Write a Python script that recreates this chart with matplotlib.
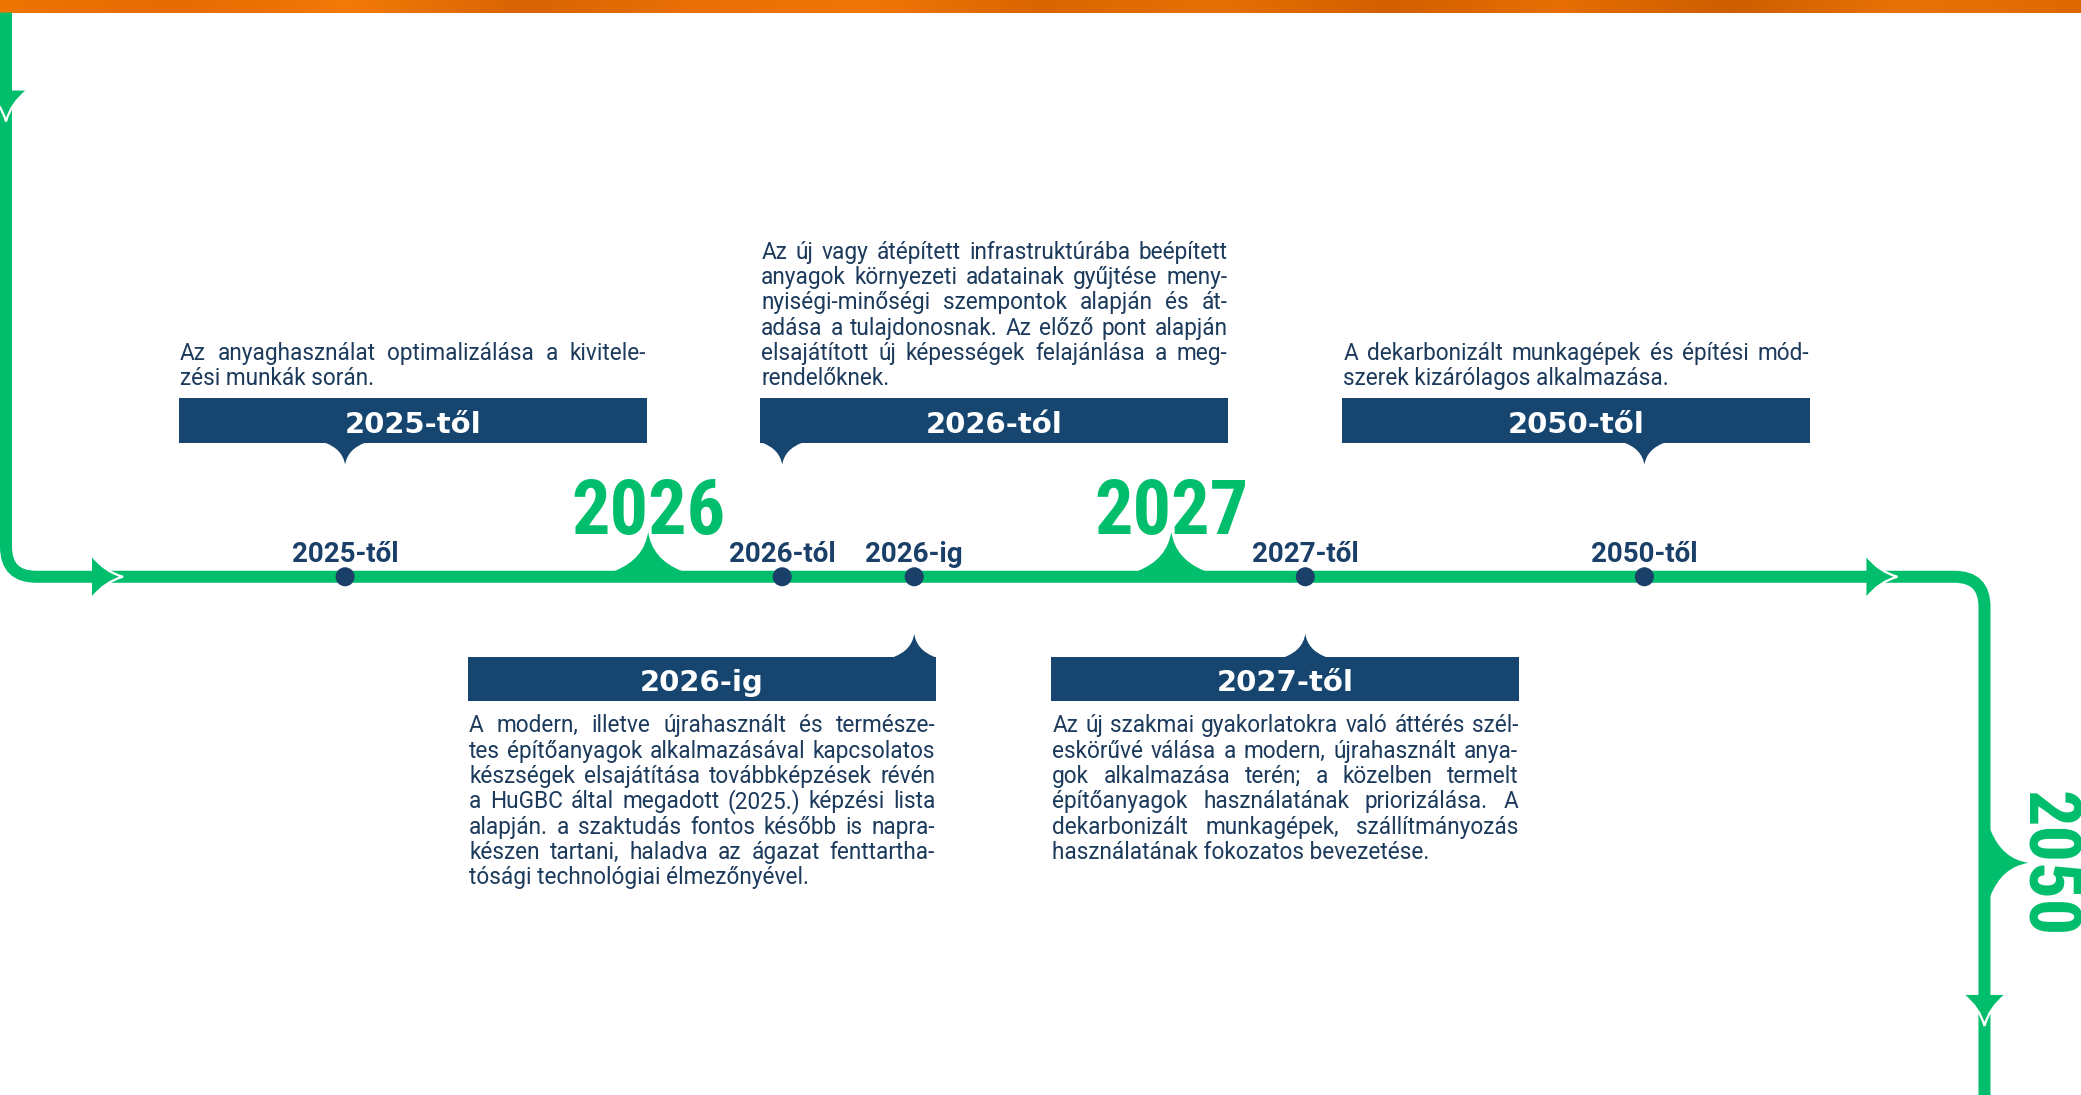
import matplotlib
matplotlib.use('Agg')
import matplotlib.pyplot as plt
import matplotlib.patches as patches
from matplotlib.path import Path
from matplotlib.colors import LinearSegmentedColormap
from matplotlib import font_manager
import numpy as np

# --- tartalom ---
milestones = ['2025-től', '2026-tól', '2026-ig', '2027-től', '2050-től']
big_years = ['2026', '2027']
side_year = '2050'

card_titles = ['2025-től', '2026-tól', '2050-től', '2026-ig', '2027-től']
card_lines = [
    ['Az anyaghasználat optimalizálása a kivitele-',
     'zési munkák során.'],
    ['Az új vagy átépített infrastruktúrába beépített',
     'anyagok környezeti adatainak gyűjtése meny-',
     'nyiségi-minőségi szempontok alapján és át-',
     'adása a tulajdonosnak. Az előző pont alapján',
     'elsajátított új képességek felajánlása a meg-',
     'rendelőknek.'],
    ['A dekarbonizált munkagépek és építési mód-',
     'szerek kizárólagos alkalmazása.'],
    ['A modern, illetve újrahasznált és természe-',
     'tes építőanyagok alkalmazásával kapcsolatos',
     'készségek elsajátítása továbbképzések révén',
     'a HuGBC által megadott (2025.) képzési lista',
     'alapján. a szaktudás fontos később is napra-',
     'készen tartani, haladva az ágazat fenttartha-',
     'tósági technológiai élmezőnyével.'],
    ['Az új szakmai gyakorlatokra való áttérés szél-',
     'eskörűvé válása a modern, újrahasznált anya-',
     'gok alkalmazása terén; a közelben termelt',
     'építőanyagok használatának priorizálása. A',
     'dekarbonizált munkagépek, szállítmányozás',
     'használatának fokozatos bevezetése.'],
]

# --- elrendezés (pixel) ---
W, H = 2081, 1095
LINE_Y = 577
LINE_LW = 12 * 0.72
dot_x = [345, 782, 914, 1305, 1644]
year_x = [648, 1171]
card_x = [179, 760, 1342, 468, 1051]
card_up = [True, True, True, False, False]
card_dot = [0, 1, 4, 2, 3]
CARD_W = 468

GREEN = '#00BE6B'
NAVY = '#16456F'
DOT = '#1A3F69'
TXT = '#1C3A5C'
band_colors = ['#EE7404', '#E46C02', '#F27A08', '#D86404', '#EA7006', '#F07606',
               '#DA6602', '#E67004', '#D26000', '#E66E04', '#CC5E00', '#E87206', '#E06802']

names = {f.name for f in font_manager.fontManager.ttflist}
cond = next((n for n in ['Roboto Condensed', 'Liberation Sans Narrow', 'DejaVu Sans Condensed',
                         'Noto Sans Condensed', 'Open Sans Condensed'] if n in names), 'Roboto')

fig = plt.figure(figsize=(20.815, 10.955), dpi=100)
ax = fig.add_axes([0, 0, 1, 1])
ax.axis('off')
renderer = fig.canvas.get_renderer()

# narancs sáv felül
cmap = LinearSegmentedColormap.from_list('band', band_colors)
ax.imshow(np.linspace(0, 1, 600)[None, :], cmap=cmap, extent=[0, W, 13, 0],
          aspect='auto', interpolation='bicubic', zorder=1)

# zöld idővonal lekerekített sarkokkal
r = 30
verts = [(6, 13), (6, LINE_Y - r), (6, LINE_Y), (6 + r, LINE_Y),
         (1954, LINE_Y), (1984, LINE_Y), (1984, LINE_Y + r), (1984, H + 20)]
codes = [Path.MOVETO, Path.LINETO, Path.CURVE3, Path.CURVE3,
         Path.LINETO, Path.CURVE3, Path.CURVE3, Path.LINETO]
ax.add_patch(patches.PathPatch(Path(verts, codes), fill=False, edgecolor=GREEN,
                               lw=LINE_LW, capstyle='butt', zorder=2))


def local(cx, cy, d):
    dx, dy = d
    nx, ny = -dy, dx
    return lambda a, b: (cx + a * dx + b * nx, cy + a * dy + b * ny)


def arrow(cx, cy, d, length=31, half=21):
    P = local(cx, cy, d)
    pts = [P(0, half), P(length * 0.42, half * 0.22), P(length, 0),
           P(length * 0.42, -half * 0.22), P(0, -half)]
    codes = [Path.MOVETO, Path.CURVE3, Path.CURVE3, Path.CURVE3, Path.CURVE3]
    ax.add_patch(patches.PathPatch(Path(pts + [pts[0]], codes + [Path.CLOSEPOLY]),
                                   facecolor=GREEN, edgecolor='none', zorder=3))
    ax.add_patch(patches.PathPatch(Path(pts, codes), fill=False, edgecolor='white',
                                   lw=1.6, zorder=3.1))


def cusp(cx, cy, d, w, h, color, z=3):
    P = local(cx, cy, d)
    pts = [P(-3, w), P(0, w), P(h * 0.3, w * 0.12), P(h, 0),
           P(h * 0.3, -w * 0.12), P(0, -w), P(-3, -w), P(-3, w)]
    codes = [Path.MOVETO, Path.LINETO, Path.CURVE3, Path.CURVE3,
             Path.CURVE3, Path.CURVE3, Path.LINETO, Path.CLOSEPOLY]
    ax.add_patch(patches.PathPatch(Path(pts, codes), facecolor=color,
                                   edgecolor='none', zorder=z))


arrow(6, 91, (0, 1))
arrow(92, LINE_Y, (1, 0))
arrow(1866, LINE_Y, (1, 0))
arrow(1984, 995, (0, 1))

# nagy évszámok a kiemelésekkel
for x, yr in zip(year_x, big_years):
    cusp(x, LINE_Y - 6, (0, -1), 33, 39, GREEN)
    ax.text(x, 534, yr, family=[cond, 'DejaVu Sans'], weight='bold', fontsize=55,
            color=GREEN, ha='center', va='baseline', zorder=4)
cusp(1990, 863, (1, 0), 33, 38, GREEN)
ax.text(2026, 864, side_year, family=[cond, 'DejaVu Sans'], weight='bold', fontsize=52,
        color=GREEN, rotation=270, rotation_mode='anchor', ha='center', va='baseline', zorder=4)

# pontok és feliratok
for x, lab in zip(dot_x, milestones):
    ax.add_patch(patches.Circle((x, LINE_Y), 9.5, facecolor=DOT, edgecolor='none', zorder=5))
    ax.text(x, 562, lab, family=['Roboto', 'DejaVu Sans'], weight='bold', fontsize=20,
            color=DOT, ha='center', va='baseline', zorder=5)

body = dict(family=['Roboto', 'DejaVu Sans'], fontsize=16.3, color=TXT, va='baseline', zorder=5)
STEP = 25.3


def paragraph(x0, x1, y0, lines):
    for i, line in enumerate(lines):
        y = y0 + i * STEP
        words = line.split()
        if i == len(lines) - 1 or len(words) < 2:
            ax.text(x0, y, line, **body)
            continue
        items = [ax.text(x0, y, w, **body) for w in words]
        widths = [t.get_window_extent(renderer).width for t in items]
        gap = max((x1 - x0 - sum(widths)) / (len(words) - 1), 3)
        x = x0
        for t, wd in zip(items, widths):
            t.set_x(x)
            x += wd + gap


# kártyák
for x0, up, di, title, lines in zip(card_x, card_up, card_dot, card_titles, card_lines):
    if up:
        top, bot = 398, 443
        cusp(dot_x[di], bot, (0, 1), 20, 22, NAVY)
        paragraph(x0 + 1, x0 + CARD_W - 1, 385 - (len(lines) - 1) * STEP, lines)
        base = 433
    else:
        top, bot = 657, 701
        cusp(dot_x[di], top, (0, -1), 20, 23, NAVY)
        paragraph(x0 + 1, x0 + CARD_W - 1, 732, lines)
        base = 691
    ax.add_patch(patches.Rectangle((x0, top), CARD_W, bot - top, facecolor=NAVY,
                                   edgecolor='none', zorder=3))
    ax.text(x0 + CARD_W / 2, base, title, family='DejaVu Sans', weight='bold', fontsize=21,
            color='white', ha='center', va='baseline', zorder=4)

ax.set_xlim(0, W)
ax.set_ylim(H, 0)
fig.savefig('out.png', dpi=100, facecolor='white')
